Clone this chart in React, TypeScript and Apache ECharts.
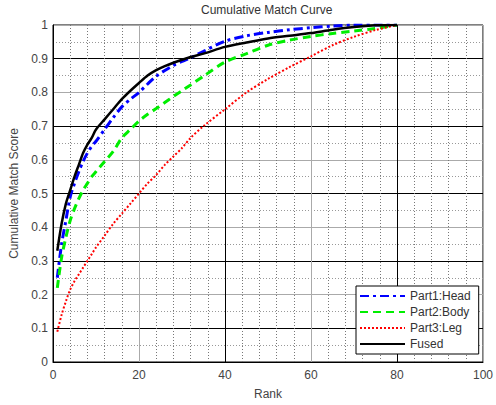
import React, { useEffect, useRef } from "react";
import * as echarts from "echarts";

const ranks = [1, 2, 3, 4, 5, 6, 7, 8, 9, 10, 12, 14, 16, 18, 20, 22, 24, 26, 28, 30, 32, 35, 40, 45, 50, 55, 60, 65, 70, 75, 80];
const head = [0.25, 0.35, 0.42, 0.49, 0.53, 0.565, 0.595, 0.62, 0.64, 0.655, 0.69, 0.725, 0.757, 0.78, 0.8, 0.825, 0.848, 0.865, 0.88, 0.892, 0.903, 0.922, 0.952, 0.968, 0.978, 0.986, 0.992, 0.997, 1.0, 1.0, 1.0];
const body = [0.22, 0.31, 0.37, 0.42, 0.455, 0.485, 0.51, 0.53, 0.55, 0.565, 0.595, 0.625, 0.665, 0.69, 0.715, 0.735, 0.752, 0.77, 0.788, 0.805, 0.822, 0.848, 0.89, 0.915, 0.94, 0.955, 0.966, 0.975, 0.982, 0.99, 1.0];
const leg = [0.09, 0.14, 0.18, 0.215, 0.24, 0.26, 0.28, 0.3, 0.32, 0.34, 0.375, 0.41, 0.44, 0.47, 0.5, 0.53, 0.555, 0.585, 0.61, 0.635, 0.665, 0.7, 0.75, 0.8, 0.84, 0.875, 0.907, 0.94, 0.965, 0.985, 1.0];
const fused = [0.33, 0.41, 0.47, 0.51, 0.55, 0.585, 0.62, 0.645, 0.665, 0.69, 0.72, 0.75, 0.78, 0.805, 0.828, 0.85, 0.866, 0.878, 0.888, 0.897, 0.905, 0.915, 0.935, 0.948, 0.96, 0.968, 0.976, 0.986, 0.994, 0.999, 1.0];

const seriesNames = ["Part1:Head", "Part2:Body", "Part3:Leg", "Fused"];
const seriesValues = [head, body, leg, fused];
const seriesColors = ["#0000ff", "#00ee00", "#ff0000", "#000000"];
const seriesDash: any[] = [[9, 4, 3, 4], [8, 5], [2, 2], "solid"];
const seriesWidths = [3, 3, 2, 2.5];

const FONT = "'Liberation Sans', Arial, sans-serif";

export default function App() {
  const ref = useRef<HTMLDivElement>(null);
  useEffect(() => {
    document.body.style.margin = "0";
    const chart = echarts.init(ref.current!, null, { renderer: "svg" });
    chart.setOption({
      animation: false,
      backgroundColor: "#ffffff",
      textStyle: { fontFamily: FONT },
      title: {
        text: "Cumulative Match Curve",
        left: 201,
        top: 4,
        padding: 0,
        textStyle: { fontSize: 12, fontWeight: "normal", color: "#333", fontFamily: FONT },
      },
      grid: {
        left: 53,
        right: 9,
        top: 25,
        bottom: 40,
        show: true,
        borderColor: "#000",
        borderWidth: 1,
      },
      legend: {
        orient: "vertical",
        left: 356,
        top: 286,
        itemWidth: 45,
        itemHeight: 14,
        itemGap: 4,
        padding: [4, 8, 4, 3],
        borderColor: "#000",
        borderWidth: 1,
        backgroundColor: "#fff",
        itemStyle: { opacity: 0 },
        textStyle: { fontSize: 12, color: "#333", fontFamily: FONT },
        data: seriesNames,
      },
      xAxis: {
        type: "value",
        min: 0,
        max: 100,
        interval: 20,
        name: "Rank",
        nameLocation: "middle",
        nameGap: 26,
        nameTextStyle: { fontSize: 12, color: "#444", fontFamily: FONT },
        axisLine: { show: true, lineStyle: { color: "#000" } },
        axisTick: { show: false },
        axisLabel: { fontSize: 12, color: "#444", margin: 7, fontFamily: FONT },
        splitLine: { show: true, lineStyle: { color: ["#000", "#aaa"], width: 1 } },
        minorTick: { show: false, splitNumber: 5 },
        minorSplitLine: { show: true, lineStyle: { color: "#777", type: [1, 2], width: 1 } },
      },
      yAxis: {
        type: "value",
        min: 0,
        max: 1,
        interval: 0.1,
        name: "Cumulative Match Score",
        nameLocation: "middle",
        nameGap: 32,
        nameTextStyle: { fontSize: 12, color: "#444", fontFamily: FONT },
        axisLine: { show: true, lineStyle: { color: "#000" } },
        axisTick: { show: false },
        axisLabel: { fontSize: 12, color: "#444", margin: 5, fontFamily: FONT },
        splitLine: { show: true, lineStyle: { color: ["#aaa", "#000"], width: 1 } },
        minorTick: { show: false, splitNumber: 2 },
        minorSplitLine: { show: true, lineStyle: { color: "#999", type: [1, 2], width: 1 } },
      },
      series: seriesNames.map((name, i) => ({
        name,
        type: "line",
        showSymbol: false,
        symbol: "none",
        smooth: 0.3,
        color: seriesColors[i],
        lineStyle: { color: seriesColors[i], width: seriesWidths[i], type: seriesDash[i] },
        data: ranks.map((r, j) => [r, seriesValues[i][j]]),
        z: 3 + i,
      })),
    });
    return () => chart.dispose();
  }, []);
  return <div ref={ref} style={{ width: 496, height: 405 }} />;
}
